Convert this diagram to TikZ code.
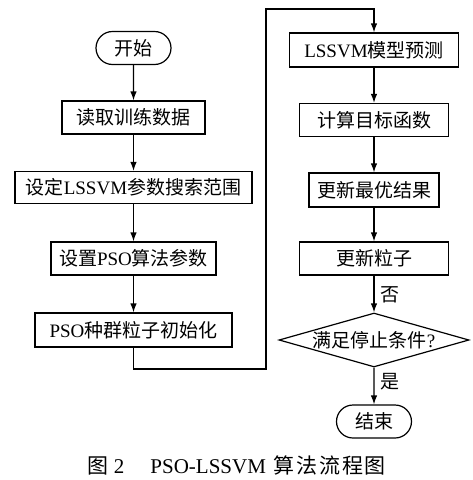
\documentclass[tikz,border=0pt]{standalone}
\usepackage{fontspec}
\setmainfont{Liberation Serif}
\newfontfamily\cjk{Noto Sans CJK SC}
\usetikzlibrary{shapes.geometric,shapes.misc,arrows.meta}
\newcommand{\zh}[1]{{\cjk #1}}
\newcommand{\cs}{\hspace{2pt}}
\begin{document}
\begin{tikzpicture}[x=1pt,y=-1pt,
  every node/.style={inner sep=0pt},
  stepbox/.style={draw, line width=1.2pt, minimum height=33pt, font=\fontsize{19}{21}\selectfont},
  term/.style={stepbox, rounded rectangle, minimum width=75pt},
  dec/.style={draw, line width=1.2pt, diamond, aspect=3.5, minimum width=190pt, minimum height=54pt, font=\fontsize{19}{21}\selectfont},
  lab/.style={font=\fontsize{19}{21}\selectfont, anchor=west},
  arr/.style={line width=1.2pt, -{Latex[length=9pt,width=6.5pt]}},
  ln/.style={line width=1.2pt}]
\useasboundingbox (0,0) rectangle (472,480);
% left column
\node[term] (start) at (133.5,48) {\zh{开始}};
\node[stepbox, minimum width=143pt] (b1) at (133.5,117.5) {\zh{读取训练数据}};
\node[stepbox, minimum width=237pt, minimum height=32pt] (b2) at (133.5,187.5) {\zh{设定}LSSVM\zh{参数搜索范围}};
\node[stepbox, minimum width=165pt] (b3) at (133.5,258.5) {\zh{设置}PSO\zh{算法参数}};
\node[stepbox, minimum width=197pt, minimum height=34pt] (b4) at (133.5,330) {PSO\zh{种群粒子初始化}};
% right column
\node[stepbox, minimum width=169pt, minimum height=34pt] (r1) at (374,50) {LSSVM\zh{模型预测}};
\node[stepbox, minimum width=149pt] (r2) at (374,120) {\zh{计算目标函数}};
\node[stepbox, minimum width=130pt, minimum height=34pt] (r3) at (374,190) {\zh{更新最优结果}};
\node[stepbox, minimum width=149pt] (r4) at (374,258.5) {\zh{更新粒子}};
\node[dec] (d) at (374,340) {\zh{满足停止条件}?};
\node[term] (end) at (374,421.5) {\zh{结束}};
% labels
\node[lab] (no) at (380,295) {\zh{否}};
\node[lab] (yes) at (380,382) {\zh{是}};
% connectors
\draw[arr] (start) -- (b1);
\draw[arr] (b1) -- (b2);
\draw[arr] (b2) -- (b3);
\draw[arr] (b3) -- (b4);
\coordinate (c1) at (133.5,369);
\coordinate (c2) at (266,369);
\coordinate (c3) at (266,9);
\coordinate (c4) at (374,9);
\draw[arr] (b4.south) -- (c1) -- (c2) -- (c3) -- (c4) -- (r1.north);
\draw[arr] (r1) -- (r2);
\draw[arr] (r2) -- (r3);
\draw[arr] (r3) -- (r4);
\draw[arr] (r4) -- (d);
\draw[arr] (d) -- (end);
% caption
\node[font=\fontsize{21}{23}\selectfont] (cap) at (237,465) {\zh{图}\hspace{5pt}2\hspace{26pt}PSO-LSSVM\hspace{7pt}\zh{算\cs 法\cs 流\cs 程\cs 图}};
\end{tikzpicture}
\end{document}
